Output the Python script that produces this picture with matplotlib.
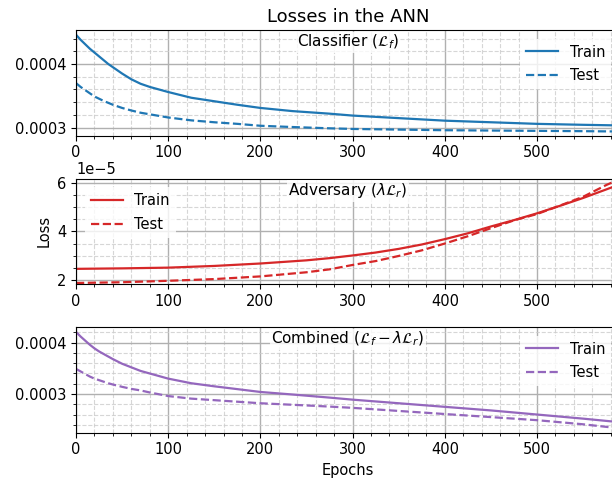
import matplotlib
matplotlib.use("Agg")
import matplotlib.pyplot as plt
import numpy as np

# epochs sampled for the classifier and combined panels (denser where curves bend)
epochs_clf = [0, 5, 10, 15, 20, 25, 30, 35, 40, 50, 60, 70, 80, 90, 100, 125, 150, 175, 200,
              235, 275, 300, 350, 400, 450, 500, 550, 590]
clf_train = [4.46, 4.38, 4.31, 4.24, 4.18, 4.12, 4.06, 4.00, 3.95, 3.85, 3.76, 3.69, 3.64, 3.60, 3.56,
             3.47, 3.415, 3.36, 3.31, 3.26, 3.22, 3.19, 3.15, 3.11, 3.085, 3.06, 3.045, 3.035]
clf_test = [3.70, 3.64, 3.59, 3.54, 3.49, 3.455, 3.42, 3.39, 3.36, 3.31, 3.27, 3.235, 3.21, 3.185, 3.16,
            3.115, 3.085, 3.06, 3.03, 3.01, 2.99, 2.98, 2.97, 2.96, 2.955, 2.95, 2.945, 2.94]

epochs_adv = [0, 50, 100, 150, 200, 250, 275, 300, 325, 350, 375, 400, 425, 450, 475, 500, 525, 550, 575, 590]
adv_train = [2.46, 2.48, 2.51, 2.58, 2.68, 2.81, 2.90, 3.01, 3.13, 3.28, 3.46, 3.68, 3.92, 4.20, 4.46, 4.74, 5.05, 5.37, 5.72, 5.93]
adv_test = [1.88, 1.91, 1.97, 2.04, 2.15, 2.32, 2.44, 2.62, 2.78, 2.99, 3.22, 3.50, 3.80, 4.13, 4.45, 4.71, 5.06, 5.42, 5.90, 6.15]

epochs_comb = epochs_clf
comb_train = [4.21, 4.12, 4.04, 3.96, 3.89, 3.83, 3.78, 3.73, 3.68, 3.59, 3.52, 3.45, 3.40, 3.35, 3.30,
              3.21, 3.15, 3.095, 3.04, 2.99, 2.93, 2.89, 2.82, 2.75, 2.68, 2.60, 2.52, 2.45]
comb_test = [3.49, 3.44, 3.39, 3.34, 3.30, 3.27, 3.24, 3.21, 3.185, 3.14, 3.10, 3.07, 3.03, 2.995, 2.96,
             2.91, 2.88, 2.85, 2.82, 2.79, 2.755, 2.73, 2.67, 2.61, 2.55, 2.49, 2.41, 2.33]

panels = [
    (epochs_clf, np.array(clf_train) * 1e-4, np.array(clf_test) * 1e-4, 'tab:blue',
     r'Classifier ($\mathcal{L}_f$)', 'upper right', (0.0002874, 0.0004534)),
    (epochs_adv, np.array(adv_train) * 1e-5, np.array(adv_test) * 1e-5, 'tab:red',
     r'Adversary ($\lambda\mathcal{L}_r$)', 'upper left', (1.83e-5, 6.17e-5)),
    (epochs_comb, np.array(comb_train) * 1e-4, np.array(comb_test) * 1e-4, 'tab:purple',
     r'Combined ($\mathcal{L}_f-\lambda\mathcal{L}_r$)', 'upper right', (0.0002246, 0.0004306)),
]

plt.rcParams['font.size'] = 10.5

fig = plt.figure(figsize=(6.12, 4.82), dpi=100)
W, H = 612.0, 482.0
left, right = 76 / W, 620 / W
tops = [30, 178.5, 327]
h = 105.7

axes = []
for (ep, tr, te, col, label, loc, ylim), top in zip(panels, tops):
    ax = fig.add_axes([left, 1 - (top + h) / H, right - left, h / H])
    ax.plot(ep, tr, color=col, lw=1.6, label='Train')
    ax.plot(ep, te, color=col, lw=1.6, ls='--', label='Test')
    ax.set_xlim(0, 590)
    ax.set_ylim(*ylim)
    ax.minorticks_on()
    ax.grid(which='major', color='#b0b0b0', lw=1.0)
    ax.grid(which='minor', color='#cccccc', ls='--', lw=0.8, alpha=0.8)
    ax.set_axisbelow(True)
    ax.text(0.5, 0.885, label, transform=ax.transAxes, ha='center', va='center', fontsize=11,
            bbox=dict(facecolor='white', edgecolor='none', alpha=0.8, pad=1))
    ax.legend(loc=loc, fontsize=10.5, framealpha=0.8, edgecolor='none', fancybox=False,
              labelspacing=0.6, handlelength=2.2, borderaxespad=0.6)
    axes.append(ax)

axes[0].set_title('Losses in the ANN', fontsize=13, pad=6)
axes[1].set_ylabel('Loss')
axes[2].set_xlabel('Epochs')

fig.savefig('out.png', dpi=100)
